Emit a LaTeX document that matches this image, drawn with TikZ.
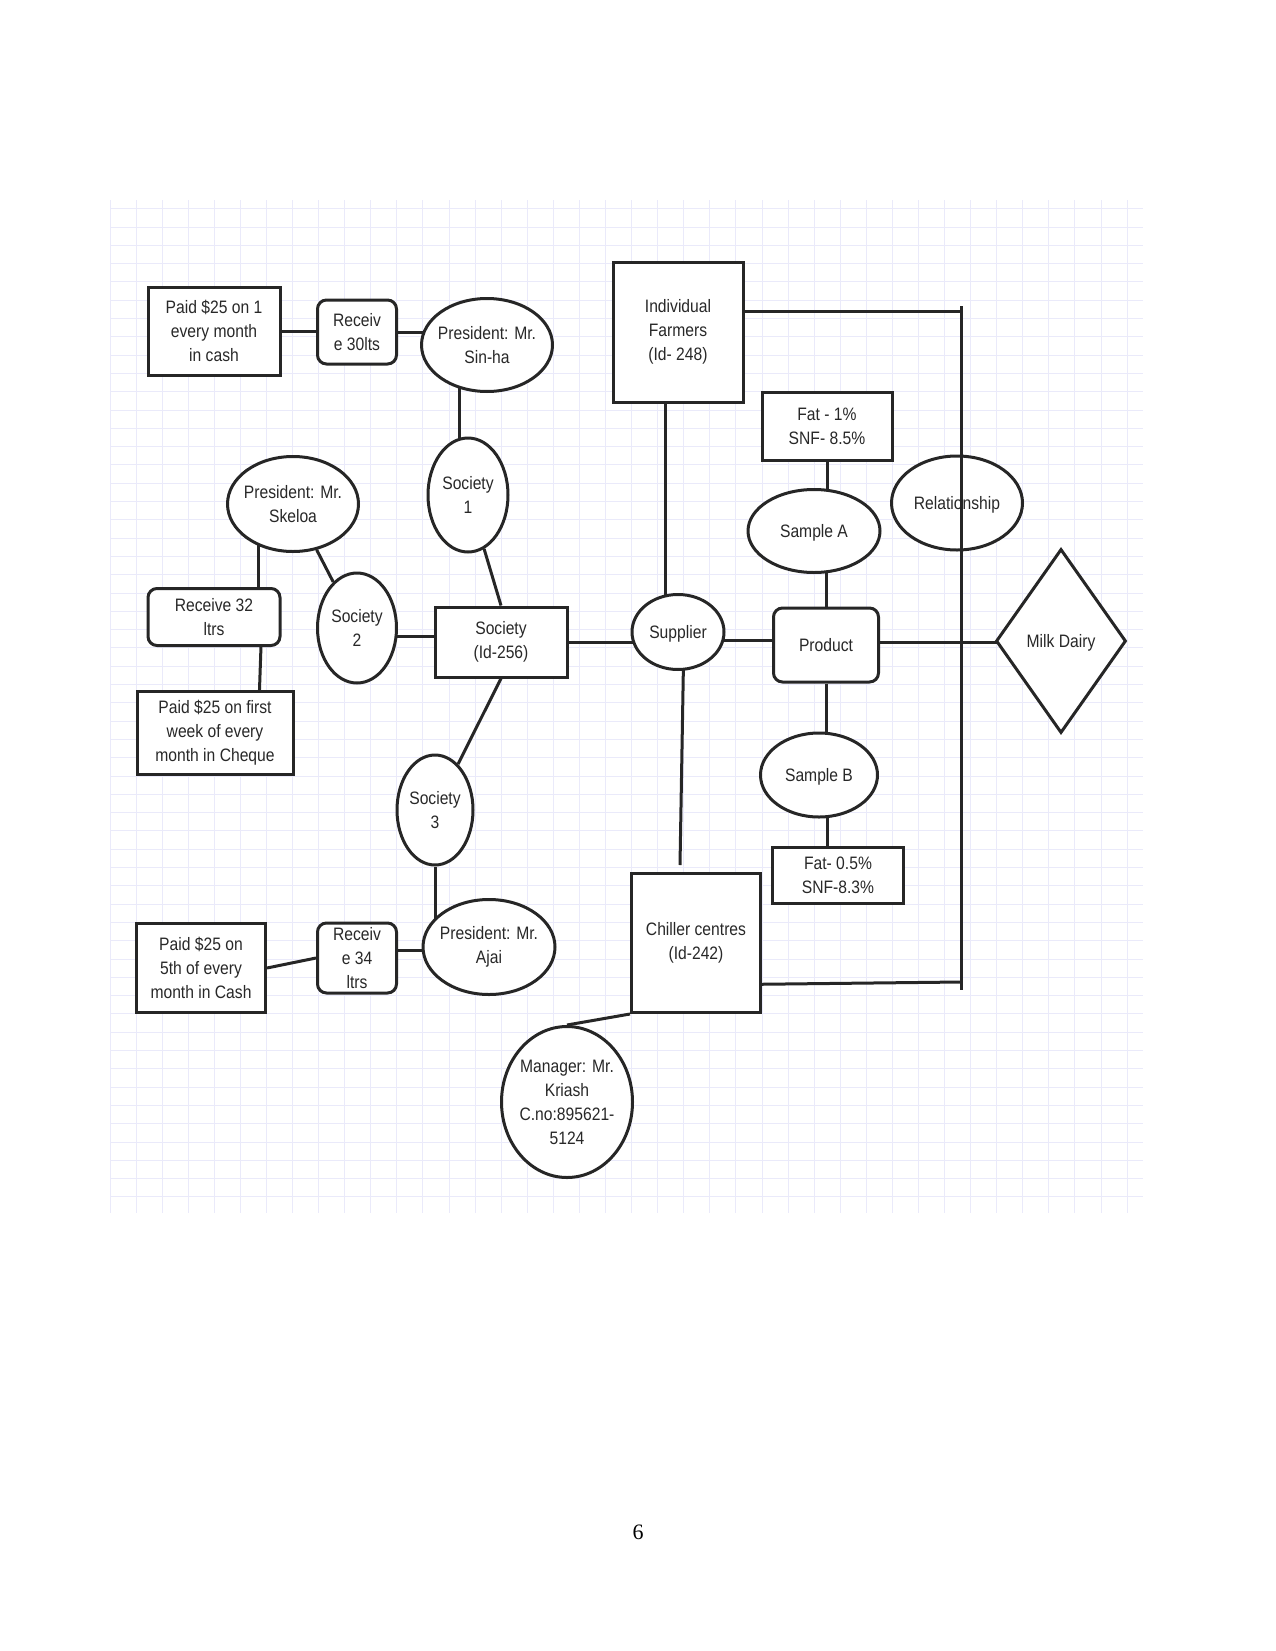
\documentclass[tikz,border=0pt]{standalone}
\usepackage{fontspec}
\newfontfamily\dfont{Liberation Sans}[FakeStretch=0.87]
\newfontfamily\pfont{Liberation Serif}
\usetikzlibrary{shapes.geometric}
\pgfdeclarelayer{bg}
\pgfsetlayers{bg,main}
\definecolor{ink}{RGB}{38,38,38}
\definecolor{gridc}{RGB}{234,234,250}
\definecolor{txt}{RGB}{40,40,40}
\begin{document}
\begin{tikzpicture}[x=1pt,y=-1pt,
  base/.style={draw=ink, line width=3pt, fill=white, text=txt,
    font=\dfont\fontsize{18}{24}\selectfont, align=center, inner sep=0pt},
  rbox/.style={base, rectangle},
  rrbox/.style={base, rectangle, rounded corners=9pt},
  ell/.style={base, ellipse, inner xsep=-12pt, inner ysep=-6pt},
  one/.style={text depth=0pt},
  dia/.style={base, diamond},
  sz/.style 2 args={minimum width=#1pt, minimum height=#2pt},
  conn/.style={draw=ink, line width=3pt},
  gridline/.style={draw=gridc, line width=1pt}]
\useasboundingbox (0,0) rectangle (1275,1651);

% nodes
\node[rbox, sz={132}{88}] (paid1) at (214,331) {Paid \$25 on 1\\every month\\in cash};
\node[rrbox, sz={79}{64}] (r30) at (357,332) {Receiv\\e 30lts};
\node[ell, sz={131}{93}] (sinha) at (487,345) {President: Mr.\\Sin-ha};
\node[ell, sz={80}{114}] (soc1) at (468,495) {Society\\1};
\node[ell, sz={131}{95}] (skeloa) at (293,504) {President: Mr.\\Skeloa};
\node[rrbox, sz={132}{57}] (r32) at (214,617) {Receive 32\\ltrs};
\node[rbox, sz={156}{83}] (pfirst) at (215,733) {Paid \$25 on first\\week of every\\month in Cheque};
\node[ell, sz={79}{110}] (soc2) at (357,628) {Society\\2};
\node[rbox, sz={132}{70}] (soc) at (501,642) {Society\\(Id-256)};
\node[ell, sz={76}{110}] (soc3) at (435,810) {Society\\3};
\node[ell, sz={132}{95}] (ajai) at (489,947) {President: Mr.\\Ajai};
\node[rrbox, sz={79}{70}, inner ysep=-6pt] (r34) at (357,958) {Receiv\\e 34\\ltrs};
\node[rbox, sz={129}{89}] (p5) at (201,968) {Paid \$25 on\\5th of every\\month in Cash};
\node[rbox, sz={130}{140}] (farm) at (678,332) {Individual\\Farmers\\(Id- 248)};
\node[rbox, sz={130}{68}] (fat1) at (827,426) {Fat - 1\%\\SNF- 8.5\%};
\node[ell, one, sz={132}{83}] (sa) at (814,531) {Sample A};
\node[ell, one, sz={131}{94}] (rel) at (957,503) {Relationship};
\node[ell, one, sz={92}{75}] (sup) at (678,632) {Supplier};
\node[rrbox, one, sz={105}{74}] (prod) at (826,645) {Product};
\node[dia, one, sz={130}{184}] (milk) at (1061,641) {Milk Dairy};
\node[ell, one, sz={117}{84}] (sb) at (819,775) {Sample B};
\node[rbox, sz={131}{56}] (fat2) at (838,875) {Fat- 0.5\%\\SNF-8.3\%};
\node[rbox, sz={129}{139}] (chill) at (696,943) {Chiller centres\\(Id-242)};
\node[ell, sz={131}{151}] (mgr) at (567,1102) {Manager: Mr.\\Kriash\\C.no:895621-\\5124};

\node[font=\pfont\fontsize{22}{26}\selectfont, inner sep=0pt] (page) at (638,1532) {6};

\coordinate (vt) at (961,306);
\coordinate (vb) at (961,990);
\coordinate (cend) at (680,865);

\begin{pgfonlayer}{bg}
  \foreach \i in {0,...,39} \draw[gridline] ({110+26.08*\i},200) -- ({110+26.08*\i},1213);
  \foreach \j in {0,...,54} \draw[gridline] (110,{208.7+18.3*\j}) -- (1143,{208.7+18.3*\j});

  \draw[conn] (paid1) -- (paid1 -| r30);
  \draw[conn] (r30) -- (r30 -| sinha);
  \draw[conn] ([xshift=-9pt]soc1.center) -- ([xshift=-9pt]soc1.center |- sinha);
  \draw[conn] (soc1) -- (soc.north);
  \draw[conn] (skeloa) -- (soc2);
  \draw[conn] ([xshift=-35pt]skeloa.center) -- ([xshift=-35pt]skeloa.center |- r32);
  \draw[conn] ([xshift=48pt]r32.center) -- ([xshift=43pt]pfirst.center);
  \draw[conn] ([yshift=-8pt]soc2.center) -- ([yshift=-8pt]soc2.center -| soc);
  \draw[conn] (soc) -- (soc -| sup);
  \draw[conn] (soc.south) -- (soc3);
  \draw[conn] (soc3) -- (soc3 |- ajai);
  \draw[conn] ([yshift=8pt]r34.center) -- ([yshift=8pt]r34.center -| ajai);
  \draw[conn] (p5.east) -- (r34.west);
  \draw[conn] ([xshift=-13pt]farm.center) -- ([xshift=-13pt]farm.center |- sup);
  \draw[conn] ([yshift=21pt]farm.center) -- ([yshift=21pt]farm.center -| vt);
  \draw[conn] ([yshift=-42pt]chill.center) -- ([yshift=8pt]vb);
  \draw[conn] (fat1) -- (fat1 |- sa);
  \draw[conn] (prod) -- (prod |- sa);
  \draw[conn] ([yshift=5pt]prod.center) -- ([yshift=5pt]prod.center -| sup);
  \draw[conn] ([yshift=3pt]prod.center) -- ([yshift=3pt]prod.center -| milk);
  \draw[conn] (prod) -- (prod |- sb);
  \draw[conn] ([xshift=8pt]sb.center) -- ([xshift=8pt]sb.center |- fat2);
  \draw[conn] ([xshift=6pt]sup.center) -- (cend);
  \draw[conn] (chill.south west) -- (mgr.north);
\end{pgfonlayer}

\draw[conn] (vt) -- (vb);
\end{tikzpicture}
\end{document}
